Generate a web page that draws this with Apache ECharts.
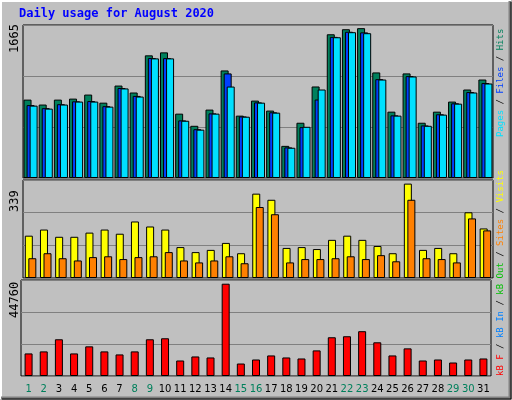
<!DOCTYPE html>
<html><head><meta charset="utf-8">
<script src="https://cdn.jsdelivr.net/npm/echarts@6/dist/echarts.min.js"></script>
<style>html,body{margin:0;padding:0;background:#c0c0c0}#c{width:512px;height:400px}</style>
</head><body><div id="c"></div>
<script>
const days = ['1','2','3','4','5','6','7','8','9','10','11','12','13','14','15','16','17','18','19','20','21','22','23','24','25','26','27','28','29','30','31'];
const weekend = ['1','2','8','9','15','16','22','23','29','30'];
const hits  = [871,816,871,882,927,837,1027,950,1363,1396,715,580,760,1195,693,860,749,357,614,1017,1597,1653,1665,1173,737,1162,614,737,849,983,1094];
const files = [810,776,820,852,855,798,1000,912,1333,1332,640,542,718,1162,684,840,730,340,565,872,1568,1625,1618,1098,696,1132,584,708,830,955,1055];
const pages = [804,771,816,849,849,793,995,905,1329,1329,636,537,715,1016,681,837,726,336,569,983,1564,1620,1609,1094,693,1128,580,704,826,950,1050];
const visits= [152,174,148,148,163,174,159,203,185,174,111,93,101,126,89,303,281,108,111,104,137,152,137,115,89,339,101,108,89,236,178];
const sites = [71,89,71,63,75,78,68,75,78,93,63,56,63,78,53,255,229,56,68,68,71,78,68,82,60,281,71,68,56,214,171];
const kbytes= [10950,11930,17810,10950,14380,11930,10460,11930,17810,18300,7520,9480,8990,44760,6050,8010,9970,8990,8500,12420,18790,19280,21730,16340,9970,13400,7520,8010,6540,8010,8500];
const maxLabels = ['1665','339','44760'];

const chart = echarts.init(document.getElementById('c'));
const B = {borderColor:'#000',borderWidth:1};
const LF = '9px "DejaVu Sans Mono"';
function xa(i, showLabels){
  return {type:'category',data:days,gridIndex:i,axisLine:{show:false},axisTick:{show:false},
    axisLabel:showLabels?{margin:8,interval:0,
      formatter:v=>weekend.includes(v)?'{g|'+v+'}':'{k|'+v+'}',
      rich:{g:{color:'#00805c',fontFamily:'DejaVu Sans',fontSize:10},k:{color:'#000',fontFamily:'DejaVu Sans',fontSize:10}}}:{show:false}};
}
function ya(i,max){
  return {type:'value',gridIndex:i,min:0,max:max,interval:max/3,axisLabel:{show:false},axisLine:{show:false},axisTick:{show:false},
    splitLine:{lineStyle:{color:'#808080',width:1}}};
}
const gs = {show:true,borderColor:'#000',borderWidth:1,backgroundColor:'#c0c0c0'};
chart.setOption({
  backgroundColor:'#c0c0c0',animation:false,
  grid:[
    Object.assign({left:23,width:470,top:25,height:153},gs),
    Object.assign({left:23,width:470,top:180,height:98},gs),
    Object.assign({left:21,width:470,top:280,height:96},gs)
  ],
  xAxis:[xa(0,false),xa(1,false),xa(2,true)],
  yAxis:[ya(0,1700),ya(1,352),ya(2,46560)],
  series:[
    {type:'bar',data:hits,xAxisIndex:0,yAxisIndex:0,barWidth:8,barGap:'-62%',itemStyle:Object.assign({color:'#00805c'},B)},
    {type:'bar',data:files,xAxisIndex:0,yAxisIndex:0,barWidth:8,barGap:'-62%',itemStyle:Object.assign({color:'#0040ff'},B)},
    {type:'bar',data:pages,xAxisIndex:0,yAxisIndex:0,barWidth:8,barGap:'-62%',itemStyle:Object.assign({color:'#00e0ff'},B)},
    {type:'bar',data:visits,xAxisIndex:1,yAxisIndex:1,barWidth:8,barGap:'-56%',itemStyle:Object.assign({color:'#ffff00'},B)},
    {type:'bar',data:sites,xAxisIndex:1,yAxisIndex:1,barWidth:8,barGap:'-56%',itemStyle:Object.assign({color:'#ff8000'},B)},
    {type:'bar',data:kbytes,xAxisIndex:2,yAxisIndex:2,barWidth:8,itemStyle:Object.assign({color:'#ff0000'},B)}
  ],
  graphic:[
    {type:'polyline',shape:{points:[[1,399],[1,1],[511,1]]},style:{stroke:'#fff',lineWidth:2,fill:null}},
    {type:'polyline',shape:{points:[[1,398],[510,398],[510,1]]},style:{stroke:'#808080',lineWidth:3,fill:null}},
    {type:'polyline',shape:{points:[[2,399],[511,399],[511,2]]},style:{stroke:'#000',lineWidth:1,fill:null}},
    {type:'text',left:19,top:8,style:{text:'Daily usage for August 2020',fill:'#0000ff',font:'bold 12px "DejaVu Sans Mono"'}},
    {type:'text',x:9,y:53,rotation:Math.PI/2,style:{text:maxLabels[0],fill:'#000',font:'12px "DejaVu Sans Mono"'}},
    {type:'text',x:9,y:212,rotation:Math.PI/2,style:{text:maxLabels[1],fill:'#000',font:'12px "DejaVu Sans Mono"'}},
    {type:'text',x:9,y:318,rotation:Math.PI/2,style:{text:maxLabels[2],fill:'#000',font:'12px "DejaVu Sans Mono"'}},
    {type:'text',x:496,y:137,rotation:Math.PI/2,style:{
      text:'{p|Pages}{k| / }{f|Files}{k| / }{h|Hits}',font:LF,
      rich:{p:{fill:'#00e0ff',font:LF},k:{fill:'#000',font:LF},f:{fill:'#0040ff',font:LF},h:{fill:'#00805c',font:LF}}}},
    {type:'text',x:496,y:376,rotation:Math.PI/2,style:{
      text:'{r|kB F}{k| / }{b|kB In}{k| / }{g|kB Out}{k| / }{o|Sites}{k| / }{y|Visits}',font:LF,
      rich:{r:{fill:'#ff0000',font:LF},k:{fill:'#000',font:LF},b:{fill:'#0080ff',font:LF},g:{fill:'#00c000',font:LF},o:{fill:'#ff8000',font:LF},y:{fill:'#ffff00',font:LF}}}}
  ]
});
</script></body></html>
